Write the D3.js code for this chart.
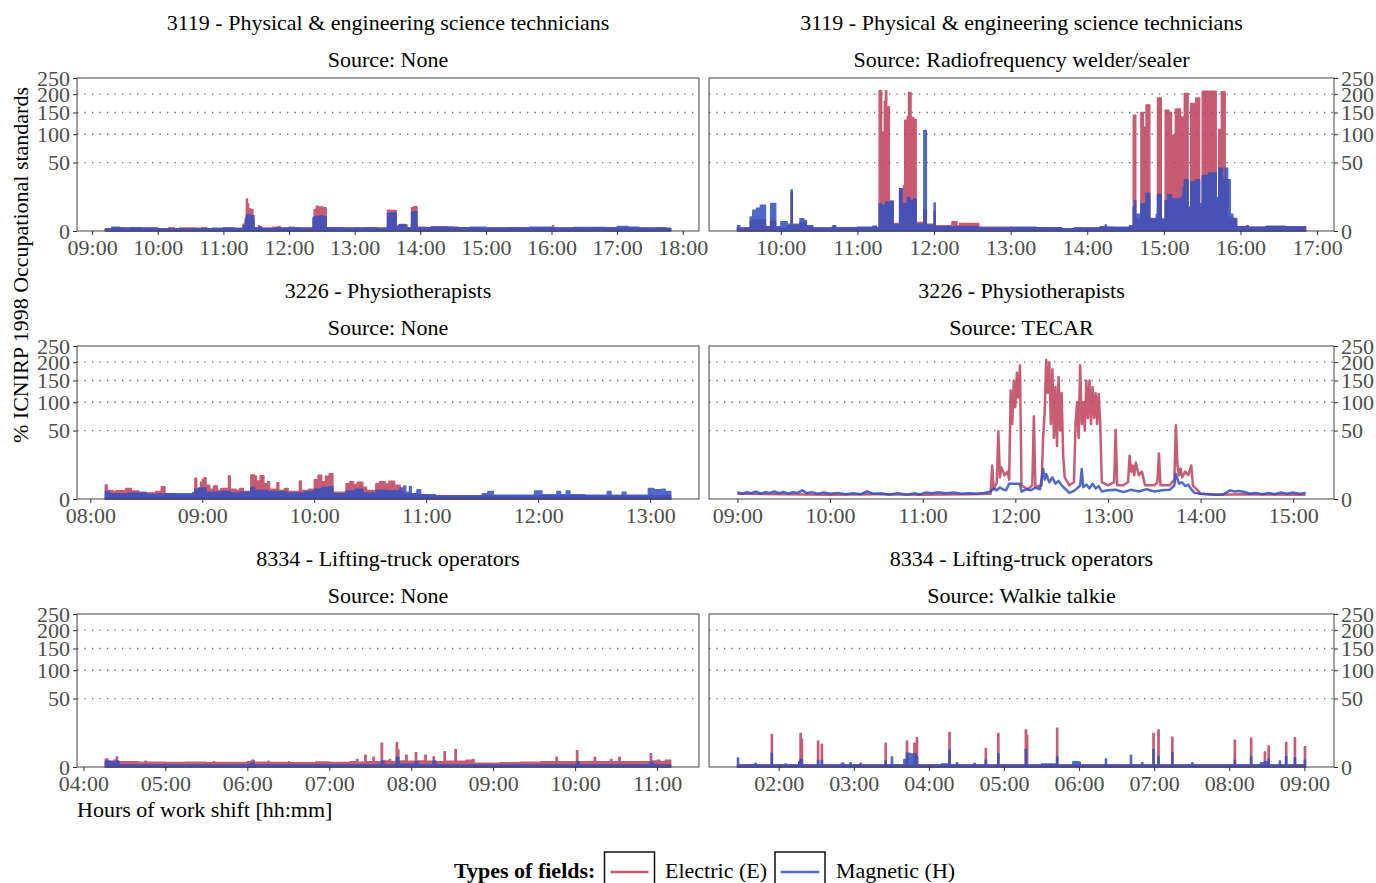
<!DOCTYPE html>
<html>
<head>
<meta charset="utf-8">
<script src="https://cdn.jsdelivr.net/npm/d3@7"></script>
<style>
	body{margin:0;background:#fff;}
	svg{font-family:"Liberation Serif","Times New Roman",serif;}
</style>
</head>
<body>
<svg id="chart" width="1376" height="883"></svg>
<script>
// facet labels
const occupations = ["3119 - Physical & engineering science technicians", "3226 - Physiotherapists", "8334 - Lifting-truck operators"];
const sources = [["None", "Radiofrequency welder/sealer"], ["None", "TECAR"], ["None", "Walkie talkie"]];
const yTicks = [0, 50, 100, 150, 200, 250];
const gridValues = [50, 100, 150, 200];
const fieldTypes = ["Electric (E)", "Magnetic (H)"];

// [hh:mm, % of ICNIRP level]
const techNoneE = [["09:12",0.06],["09:18",0.1],["09:30",0.08],["09:45",0.1],["10:00",0.06],["10:10",0.12],["10:15",0.06],["10:20",0.1],["10:35",0.08],["10:40",0.12],["10:45",0.06],["11:00",0.1],["11:10",0.08],["11:18",0.5],["11:20",1.8],["11:21",11],["11:22",8],["11:23",5.2],["11:25",5.0],["11:27",1.0],["11:28",0.1],["11:32",0.3],["11:33",0.1],["11:45",0.15],["11:50",0.2],["11:52",0.1],["12:00",0.15],["12:05",0.1],["12:22",1.5],["12:23",5.0],["12:25",6.6],["12:27",0.8],["12:28",6.2],["12:31",5.8],["12:34",0.1],["12:45",0.08],["13:00",0.1],["13:15",0.08],["13:30",4.6],["13:32",3.8],["13:33",4.5],["13:38",0.3],["13:40",0.4],["13:48",0.1],["13:52",5.8],["13:54",6.3],["13:57",0.15],["14:05",0.12],["14:10",0.2],["14:25",0.15],["14:35",0.1],["14:50",0.08],["15:00",0.1],["15:30",0.08],["15:50",0.1],["16:01",0.3],["16:02",0.1],["16:30",0.08],["16:40",0.12],["16:45",0.08],["17:00",0.1],["17:20",0.08],["17:40",0.06],["17:49",0.06]];
const techNoneH = [["09:12",0.04],["09:18",0.15],["09:25",0.1],["09:35",0.12],["09:45",0.08],["10:00",0.05],["10:30",0.06],["10:50",0.08],["11:00",0.1],["11:10",0.06],["11:18",0.3],["11:20",1.2],["11:21",2.8],["11:23",2.6],["11:26",2.5],["11:28",0.1],["11:33",0.2],["11:35",0.06],["11:48",0.12],["11:50",0.08],["12:00",0.1],["12:10",0.08],["12:22",2.0],["12:24",2.3],["12:27",0.5],["12:28",2.4],["12:32",2.2],["12:34",0.12],["12:50",0.1],["13:10",0.12],["13:20",0.08],["13:30",3.3],["13:32",2.6],["13:33",3.5],["13:38",0.2],["13:41",0.45],["13:47",0.1],["13:52",3.8],["13:54",4.0],["13:57",0.1],["14:10",0.15],["14:30",0.12],["14:45",0.15],["15:00",0.1],["15:20",0.12],["15:40",0.15],["16:00",0.1],["16:20",0.14],["16:50",0.12],["17:00",0.22],["17:10",0.15],["17:20",0.1],["17:35",0.12],["17:45",0.08],["17:49",0.08]];

const techRfE = [["09:26",0.1],["09:36",1.0],["09:38",1.3],["09:48",0.2],["09:52",1.0],["09:56",0.1],["10:05",0.3],["10:08",16],["10:09",0.5],["10:15",0.8],["10:20",0.2],["10:25",0.1],["10:40",0.15],["10:41",0.3],["10:42",0.1],["11:00",0.12],["11:12",0.2],["11:15",0.1],["11:17",210],["11:19",9],["11:20",105],["11:21",180],["11:22",210],["11:23",9],["11:24",165],["11:25",9],["11:26",9.5],["11:28",0.6],["11:33",19],["11:35",0.8],["11:36",22],["11:37",131],["11:39",140],["11:40",205],["11:42",138],["11:44",133],["11:46",0.8],["11:52",5],["11:54",0.5],["12:00",4],["12:01",0.3],["12:14",0.9],["12:18",0.3],["12:20",0.6],["12:22",0.3],["12:23",0.6],["12:35",0.15],["13:00",0.12],["13:30",0.1],["13:40",0.05],["13:50",0.1],["14:10",0.15],["14:20",0.12],["14:33",0.2],["14:36",143],["14:38",1.5],["14:42",150],["14:44",115],["14:46",170],["14:49",1.5],["14:55",189],["14:58",1.5],["15:01",156],["15:04",150],["15:06",2],["15:07",98],["15:09",159],["15:13",139],["15:16",202],["15:19",5],["15:21",174],["15:24",5],["15:25",189],["15:28",6],["15:30",209],["15:41",10],["15:43",110],["15:45",207],["15:48",28],["15:50",2],["15:54",1.5],["15:57",0.2],["16:05",0.3],["16:06",0.15],["16:20",0.2],["16:35",0.15],["16:51",0.15]];
const techRfH = [["09:26",0.3],["09:28",0.1],["09:36",2.1],["09:38",4.6],["09:41",5.5],["09:44",7.1],["09:48",0.2],["09:52",8.1],["09:56",0.2],["10:00",0.9],["10:05",0.5],["10:08",18],["10:09",0.4],["10:15",1.6],["10:18",1.2],["10:20",0.3],["10:25",0.1],["10:41",0.3],["10:43",0.12],["11:00",0.15],["11:12",0.25],["11:15",0.12],["11:17",8],["11:19",2],["11:20",7],["11:22",9],["11:26",9.5],["11:28",0.4],["11:33",19],["11:35",0.6],["11:36",8],["11:39",12],["11:41",10],["11:44",11],["11:46",0.5],["11:52",108],["11:54",0.4],["12:00",8.4],["12:01",0.2],["12:10",0.2],["12:35",0.12],["13:00",0.15],["13:20",0.12],["13:40",0.06],["13:50",0.1],["14:10",0.2],["14:14",0.4],["14:15",0.15],["14:33",0.3],["14:36",6],["14:37",10],["14:38",3],["14:41",1],["14:42",8],["14:46",15],["14:49",1.7],["14:54",3],["14:55",14],["14:58",1.5],["15:01",10],["15:03",14],["15:06",2],["15:07",11],["15:13",12],["15:15",20],["15:16",28],["15:19",6],["15:21",26],["15:24",6],["15:25",28],["15:28",8],["15:30",33],["15:35",36],["15:41",12],["15:43",42],["15:46",28],["15:48",42],["15:50",28],["15:52",3],["15:54",1.7],["15:57",0.2],["16:05",0.3],["16:06",0.15],["16:20",0.25],["16:35",0.2],["16:51",0.2]];

const physioNoneE = [["08:08",2.1],["08:09",0.8],["08:12",0.6],["08:14",0.75],["08:19",1.2],["08:22",0.7],["08:26",0.5],["08:30",0.4],["08:35",0.6],["08:38",1.6],["08:40",0.3],["08:45",0.2],["08:55",0.5],["08:56",4.6],["08:57",1.2],["08:59",3],["09:00",4.2],["09:01",4.8],["09:02",2],["09:04",1.0],["09:06",1.8],["09:08",0.8],["09:10",1.2],["09:14",5.7],["09:15",1.0],["09:18",0.8],["09:20",1.2],["09:22",0.6],["09:26",6.2],["09:28",5.5],["09:29",3.5],["09:31",5.8],["09:33",2.5],["09:35",3.2],["09:36",1.0],["09:40",2.8],["09:41",0.8],["09:44",1.2],["09:46",0.6],["09:52",3.5],["09:53",0.8],["09:57",1.0],["10:00",4.0],["10:02",6.0],["10:04",3.2],["10:06",5.5],["10:08",6.9],["10:10",0.5],["10:17",2.5],["10:19",3.2],["10:21",2.2],["10:23",3.0],["10:26",1.5],["10:28",0.8],["10:33",2.5],["10:35",3.2],["10:38",2.4],["10:40",3.4],["10:43",2.0],["10:46",0.6],["10:48",0.3],["10:55",0.2],["11:00",0.12],["11:30",0.1],["12:00",0.12],["12:30",0.1],["13:00",0.12],["13:11",0.1]];
const physioNoneH = [["08:08",0.6],["08:10",0.3],["08:20",0.4],["08:30",0.25],["08:40",0.3],["08:55",0.4],["08:56",1.0],["08:58",1.3],["09:02",0.5],["09:10",0.6],["09:15",0.4],["09:20",0.5],["09:26",1.5],["09:28",0.8],["09:35",0.6],["09:45",0.4],["09:55",0.6],["10:00",1.0],["10:04",1.4],["10:08",1.6],["10:10",0.3],["10:17",0.7],["10:22",1.0],["10:26",0.4],["10:33",0.8],["10:40",0.7],["10:46",1.3],["10:48",1.8],["10:49",0.5],["10:51",1.6],["10:52",0.3],["10:55",0.9],["10:57",0.2],["11:05",0.1],["11:30",0.3],["11:33",0.6],["11:36",0.15],["11:58",0.7],["12:02",0.2],["12:10",0.6],["12:12",0.2],["12:15",0.7],["12:17",0.2],["12:25",0.15],["12:37",0.6],["12:39",0.15],["12:45",0.5],["12:47",0.15],["12:59",1.2],["13:02",0.9],["13:06",1.0],["13:08",0.6],["13:11",0.3]];

const physioTecarE = [["09:00",0.3],["09:30",0.25],["10:00",0.2],["10:30",0.25],["11:00",0.2],["11:30",0.25],["11:44",0.3],["11:45",12],["11:46",1],["11:48",3],["11:49",49],["11:50",5],["11:51",10.7],["11:53",6],["11:55",8],["11:56",4],["11:57",126],["11:58",60],["11:59",150],["12:00",90],["12:01",170],["12:02",110],["12:03",191],["12:04",2],["12:08",1],["12:11",2],["12:12",73],["12:13",1.5],["12:17",2],["12:18",41],["12:19",80],["12:20",206],["12:21",120],["12:22",200],["12:23",60],["12:24",180],["12:25",40],["12:26",134],["12:27",30],["12:28",159],["12:29",50],["12:30",120],["12:31",20],["12:32",5],["12:35",2],["12:38",3],["12:39",60],["12:40",100],["12:41",40],["12:42",191],["12:43",60],["12:44",100],["12:45",50],["12:46",150],["12:47",70],["12:48",150],["12:49",60],["12:50",134],["12:51",70],["12:52",120],["12:53",60],["12:54",118],["12:55",60],["12:56",3],["13:00",2],["13:04",3],["13:05",51],["13:06",2],["13:10",2],["13:13",3],["13:14",20],["13:15",8],["13:16",12],["13:17",6],["13:18",14],["13:20",6],["13:22",8],["13:24",2],["13:30",2],["13:32",3],["13:33",22],["13:34",2],["13:40",2],["13:43",4],["13:44",58],["13:45",12],["13:46",6],["13:47",10],["13:48",5],["13:50",8],["13:52",6],["13:54",12],["13:55",2],["14:00",0.3],["14:10",0.2],["14:30",0.25],["15:00",0.2],["15:08",0.2]];
const physioTecarH = [["09:00",0.5],["09:03",0.3],["09:06",0.5],["09:09",0.35],["09:12",0.6],["09:15",0.3],["09:18",0.5],["09:21",0.4],["09:24",0.6],["09:27",0.35],["09:30",0.55],["09:33",0.3],["09:36",0.5],["09:39",0.4],["09:42",0.8],["09:45",0.35],["09:48",0.5],["09:52",0.3],["09:56",0.45],["10:00",0.3],["10:05",0.4],["10:10",0.25],["10:15",0.35],["10:20",0.25],["10:24",0.6],["10:28",0.3],["10:33",0.35],["10:38",0.2],["10:44",0.35],["10:50",0.2],["10:55",0.35],["10:58",0.2],["11:02",0.45],["11:06",0.35],["11:10",0.5],["11:15",0.35],["11:20",0.45],["11:25",0.3],["11:30",0.35],["11:35",0.3],["11:40",0.4],["11:44",0.6],["11:46",1.2],["11:48",0.8],["11:50",1.4],["11:52",1.0],["11:54",0.8],["11:56",2.5],["12:03",2.5],["12:04",0.6],["12:07",1.0],["12:10",0.8],["12:13",1.4],["12:16",1.0],["12:18",9.6],["12:19",4],["12:20",6.7],["12:22",3],["12:24",5],["12:26",2.5],["12:28",3.5],["12:30",2.0],["12:32",1.2],["12:35",0.4],["12:38",0.7],["12:40",1.2],["12:42",2.0],["12:43",9.6],["12:44",1.5],["12:46",2.2],["12:48",1.2],["12:50",2.5],["12:52",1.2],["12:54",1.8],["12:56",0.6],["13:00",0.8],["13:05",0.9],["13:10",0.5],["13:15",0.9],["13:20",0.6],["13:25",1.0],["13:30",0.6],["13:35",0.8],["13:40",0.9],["13:43",2.0],["13:44",6.7],["13:46",2.5],["13:48",3],["13:50",1.8],["13:52",2.2],["13:54",1.0],["13:56",0.4],["14:00",0.3],["14:05",0.25],["14:10",0.2],["14:15",0.25],["14:19",0.8],["14:22",0.6],["14:25",0.7],["14:29",0.5],["14:32",0.3],["14:36",0.4],["14:40",0.25],["14:44",0.4],["14:48",0.25],["14:52",0.45],["14:56",0.3],["15:00",0.45],["15:04",0.3],["15:08",0.4]];

const truckNoneE = [["04:16",0.7],["04:18",0.35],["04:22",0.5],["04:24",1.07],["04:25",0.3],["04:40",0.25],["04:45",0.35],["04:46",0.25],["05:00",0.22],["05:15",0.25],["05:30",0.2],["05:35",0.3],["05:36",0.22],["06:00",0.3],["06:03",0.5],["06:05",0.25],["06:15",0.35],["06:16",0.22],["06:30",0.3],["06:31",0.2],["06:50",0.28],["07:00",0.22],["07:15",0.3],["07:20",0.6],["07:21",0.25],["07:26",1.5],["07:27",0.3],["07:32",1.0],["07:33",0.3],["07:38",6.0],["07:39",0.4],["07:44",0.6],["07:45",0.3],["07:49",6.3],["07:50",3.1],["07:51",0.4],["07:56",1.5],["07:57",0.35],["08:03",2.2],["08:04",0.4],["08:10",1.5],["08:11",0.35],["08:16",1.1],["08:17",0.3],["08:24",2.5],["08:25",0.35],["08:32",3.3],["08:33",0.35],["08:40",0.5],["08:45",0.6],["08:46",0.15],["09:05",0.2],["09:20",0.25],["09:35",0.3],["09:46",1.0],["09:47",0.3],["10:01",2.8],["10:02",0.3],["10:14",1.0],["10:15",0.3],["10:26",0.6],["10:27",0.3],["10:32",1.0],["10:33",0.3],["10:55",1.9],["10:56",0.4],["11:00",0.5],["11:02",0.3],["11:06",0.5],["11:10",0.35]];
const truckNoneH = [["04:16",0.35],["04:20",0.25],["04:24",0.4],["04:26",0.05],["05:00",0.04],["06:00",0.08],["06:03",0.2],["06:05",0.05],["07:00",0.05],["07:38",0.4],["07:40",0.05],["07:49",1.0],["07:51",0.08],["08:03",0.3],["08:05",0.05],["08:16",0.4],["08:18",0.05],["09:00",0.04],["10:01",0.3],["10:03",0.05],["10:55",0.25],["10:57",0.05],["11:10",0.05]];

const truckTalkieE = [["01:27",0.05],["01:54",11.4],["01:55",0.05],["02:16",0.3],["02:17",12.1],["02:18",8.2],["02:19",0.05],["02:31",7.2],["02:32",0.05],["02:34",5.5],["02:35",0.05],["03:25",6.0],["03:26",0.05],["03:42",7.2],["03:43",0.05],["03:48",6.0],["03:49",0.05],["03:50",9.2],["03:51",0.05],["04:16",12.8],["04:17",0.05],["04:45",3.7],["04:46",0.05],["04:55",12.1],["04:56",0.05],["05:17",14.6],["05:18",11],["05:19",0.05],["05:42",16],["05:43",0.05],["06:59",12.1],["07:00",0.05],["07:03",14.6],["07:04",0.05],["07:14",9.5],["07:15",0.05],["08:04",7.6],["08:05",0.05],["08:17",8.9],["08:18",0.05],["08:28",2.4],["08:29",0.05],["08:31",4.7],["08:32",0.05],["08:45",6.5],["08:46",0.05],["08:52",9.2],["08:53",0.05],["09:00",4.4],["09:01",0.05]];
const truckTalkieH = [["01:27",0.86],["01:28",0.05],["01:35",0.06],["01:41",0.15],["01:42",0.04],["01:54",2.0],["01:55",0.04],["02:05",0.1],["02:06",0.04],["02:16",0.3],["02:17",0.6],["02:19",0.04],["02:31",0.5],["02:32",0.04],["02:34",0.5],["02:35",0.04],["02:50",0.15],["02:52",0.04],["02:57",0.2],["02:58",0.04],["03:05",0.15],["03:06",0.04],["03:25",0.4],["03:26",0.04],["03:30",1.1],["03:31",0.04],["03:40",0.6],["03:42",2.0],["03:45",1.8],["03:48",1.9],["03:50",1.1],["03:51",0.04],["04:10",0.1],["04:16",3.1],["04:17",0.04],["04:22",0.2],["04:23",0.04],["04:36",0.15],["04:37",0.04],["04:45",0.5],["04:46",0.04],["04:55",1.8],["04:56",0.04],["05:17",3.3],["05:18",0.04],["05:30",0.1],["05:42",1.1],["05:43",0.04],["05:55",0.3],["06:00",0.25],["06:01",0.04],["06:21",0.7],["06:22",0.04],["06:41",1.5],["06:42",0.04],["06:50",0.2],["06:51",0.04],["06:59",3.3],["07:00",0.04],["07:03",1.2],["07:04",0.04],["07:14",2.2],["07:15",0.04],["07:30",0.2],["07:31",0.04],["08:04",0.5],["08:05",0.04],["08:17",1.1],["08:18",0.04],["08:25",0.2],["08:28",0.3],["08:31",0.7],["08:32",0.04],["08:40",0.4],["08:41",0.04],["08:45",1.2],["08:46",0.04],["08:52",0.9],["08:53",0.04],["09:00",0.5],["09:01",0.04]];

const colors = {E: "#be3f5a", H: "#3350c0"};
const colX = [[77, 699], [709, 1334]];
const rowY = [[78, 231], [346, 499], [614, 767]];

const panels = [
	{row: 0, col: 0, E: techNoneE, H: techNoneH},
	{row: 0, col: 1, E: techRfE, H: techRfH},
	{row: 1, col: 0, E: physioNoneE, H: physioNoneH},
	{row: 1, col: 1, E: physioTecarE, H: physioTecarH, lines: true},
	{row: 2, col: 0, E: truckNoneE, H: truckNoneH},
	{row: 2, col: 1, E: truckTalkieE, H: truckTalkieH}
];

const svg = d3.select("#chart");
const parseT = d3.timeParse("%H:%M");
const toPts = arr => arr.map(([t, v]) => ({t: parseT(t), v: v}));

function styleAxis(a){
	a.select(".domain").remove();
	a.attr("font-size", 22).attr("font-family", null);
	a.selectAll("line").attr("stroke", "#333");
	a.selectAll("text").attr("fill", "#4d4d4d");
}

function drawPanel(p){
	let [x0, x1] = colX[p.col];
	let [y0, y1] = rowY[p.row];
	let e = toPts(p.E), h = toPts(p.H);
	let ext = d3.extent(e.concat(h), d => d.t);
	let pad = (ext[1] - ext[0]) * 0.05;
	let x = d3.scaleTime()
		.domain([new Date(+ext[0] - pad), new Date(+ext[1] + pad)])
		.range([x0, x1]);
	let y = d3.scaleSqrt().domain([0, 250]).range([y1, y0]);
	let g = svg.append("g");

	g.selectAll(".grid")
		.data(gridValues)
		.enter().append("line")
		.attr("x1", x0).attr("x2", x1)
		.attr("y1", d => y(d)).attr("y2", d => y(d))
		.attr("stroke", "#666")
		.attr("stroke-width", 1.3)
		.attr("stroke-dasharray", "1.3,6.2");

	[["E", e], ["H", h]].forEach(([k, pts]) => {
		let s = g.append("g").attr("opacity", 0.85);
		if(p.lines){
			let line = d3.line().x(d => x(d.t)).y(d => y(d.v));
			s.append("path").attr("d", line(pts))
				.attr("fill", "none").attr("stroke", colors[k])
				.attr("stroke-width", 2.5).attr("stroke-linejoin", "round");
		}else{
			let area = d3.area().curve(d3.curveStepAfter)
				.x(d => x(d.t)).y0(y(0)).y1(d => y(d.v));
			s.append("path").attr("d", area(pts))
				.attr("fill", colors[k]).attr("stroke", colors[k])
				.attr("stroke-width", 1.4).attr("stroke-linejoin", "round");
		}
	});

	g.append("rect")
		.attr("x", x0).attr("y", y0)
		.attr("width", x1 - x0).attr("height", y1 - y0)
		.attr("fill", "none").attr("stroke", "#444").attr("stroke-width", 1);

	g.append("g")
		.attr("transform", `translate(0,${y1})`)
		.call(d3.axisBottom(x)
			.ticks(d3.timeHour.every(1))
			.tickFormat(d3.timeFormat("%H:%M"))
			.tickSize(4).tickPadding(4))
		.call(styleAxis);

	let yAxis = p.col == 0 ? d3.axisLeft(y) : d3.axisRight(y);
	g.append("g")
		.attr("transform", `translate(${p.col == 0 ? x0 : x1},0)`)
		.call(yAxis.tickValues(yTicks).tickSize(4).tickPadding(3))
		.call(styleAxis);

	let cx = (x0 + x1) / 2;
	g.append("text")
		.attr("x", cx).attr("y", 30 + p.row * 268)
		.attr("text-anchor", "middle").attr("font-size", 22)
		.text(occupations[p.row]);
	g.append("text")
		.attr("x", cx).attr("y", 66.5 + p.row * 268)
		.attr("text-anchor", "middle").attr("font-size", 22)
		.text("Source: " + sources[p.row][p.col]);
}

panels.forEach(drawPanel);

svg.append("text")
	.attr("transform", "translate(28,265) rotate(-90)")
	.attr("text-anchor", "middle").attr("font-size", 22)
	.text("% ICNIRP 1998 Occupational standards");

svg.append("text")
	.attr("x", 77).attr("y", 817)
	.attr("font-size", 22)
	.text("Hours of work shift [hh:mm]");

// legend
let legend = svg.append("g");
legend.append("text")
	.attr("x", 454).attr("y", 878)
	.attr("font-size", 22).attr("font-weight", "bold")
	.text("Types of fields:");
let keyX = [604.5, 775];
let labelX = [665, 836];
["E", "H"].forEach((k, i) => {
	legend.append("rect")
		.attr("x", keyX[i]).attr("y", 852)
		.attr("width", 50).attr("height", 36)
		.attr("fill", "#fff").attr("stroke", "#111").attr("stroke-width", 1.5);
	legend.append("line")
		.attr("x1", keyX[i] + 6).attr("x2", keyX[i] + 44)
		.attr("y1", 872).attr("y2", 872)
		.attr("stroke", colors[k]).attr("stroke-width", 2.5).attr("opacity", 0.85);
	legend.append("text")
		.attr("x", labelX[i]).attr("y", 878)
		.attr("font-size", 22)
		.text(fieldTypes[i]);
});
</script>
</body>
</html>
